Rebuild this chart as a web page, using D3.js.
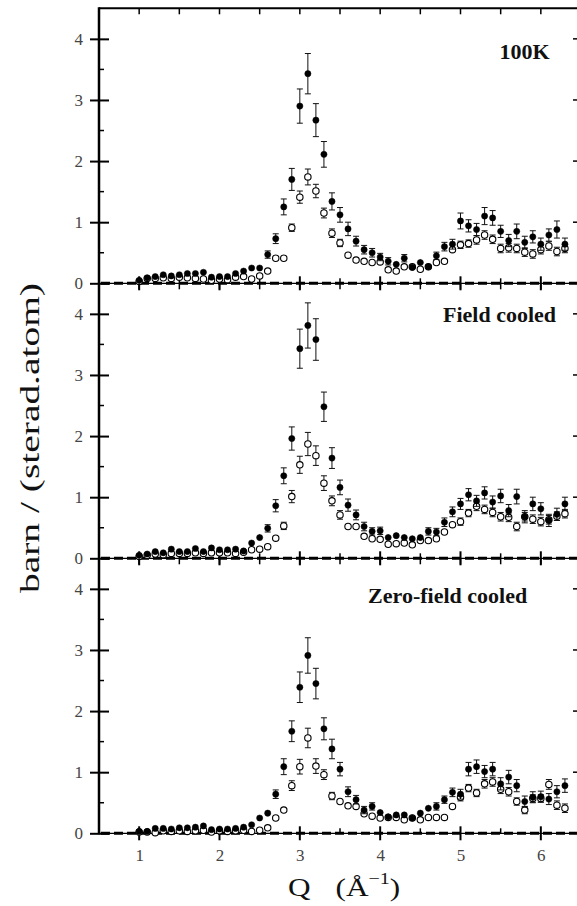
<!DOCTYPE html>
<meta charset="utf-8">
<style>
body { margin: 0; background: #fff; }
svg { display: block; }
.tick text { font-family: 'Liberation Serif', 'Times New Roman', Times, 'Nimbus Roman', 'Noto Serif', serif; font-size: 17px; fill: #444; }
.lbl { font-family: 'Liberation Serif', 'Times New Roman', Times, 'Nimbus Roman', 'Noto Serif', serif; fill: #111; }
</style>
<body>
<script src="https://d3js.org/d3.v7.min.js"></script>
<script>
// Q values, one point every 0.1 Å^-1
const Q = [1.0,1.1,1.2,1.3,1.4,1.5,1.6,1.7,1.8,1.9,2.0,2.1,2.2,2.3,2.4,2.5,2.6,2.7,2.8,2.9,
  3.0,3.1,3.2,3.3,3.4,3.5,3.6,3.7,3.8,3.9,4.0,4.1,4.2,4.3,4.4,4.5,4.6,4.7,4.8,4.9,
  5.0,5.1,5.2,5.3,5.4,5.5,5.6,5.7,5.8,5.9,6.0,6.1,6.2,6.3];

const panelNames = ["100K", "Field cooled", "Zero-field cooled"];
const xTicks = [1, 2, 3, 4, 5, 6];
const yTicks = [0, 1, 2, 3, 4];

// 100K
const filled100 = [0.05,0.09,0.11,0.14,0.12,0.14,0.16,0.16,0.18,0.10,0.11,0.11,0.16,0.20,0.25,0.25,0.47,0.73,1.25,1.70,
  2.90,3.43,2.67,2.11,1.34,1.12,0.89,0.69,0.55,0.50,0.43,0.36,0.31,0.41,0.26,0.34,0.27,0.45,0.60,0.64,
  1.02,0.94,0.88,1.10,1.07,0.85,0.70,0.85,0.67,0.76,0.64,0.79,0.88,0.64];
const filled100Err = [0.03,0.03,0.03,0.03,0.03,0.03,0.03,0.03,0.03,0.03,0.03,0.03,0.03,0.03,0.04,0.04,0.06,0.08,0.13,0.18,
  0.28,0.33,0.27,0.21,0.14,0.12,0.11,0.08,0.07,0.07,0.06,0.06,0.05,0.06,0.05,0.05,0.05,0.06,0.07,0.08,
  0.13,0.10,0.10,0.14,0.12,0.10,0.10,0.12,0.10,0.10,0.10,0.10,0.14,0.10];
const open100 = [0.03,0.08,0.08,0.09,0.08,0.10,0.09,0.08,0.07,0.05,0.07,0.06,0.10,0.11,0.07,0.12,0.20,0.41,0.41,0.91,
  1.41,1.74,1.51,1.15,0.82,0.66,0.46,0.38,0.36,0.34,0.35,0.22,0.20,0.27,0.27,0.23,0.27,0.34,0.36,0.55,
  0.63,0.65,0.71,0.79,0.72,0.57,0.58,0.57,0.51,0.48,0.55,0.61,0.52,0.57];
const open100Err = [0.02,0.02,0.02,0.02,0.02,0.02,0.02,0.02,0.02,0.02,0.02,0.02,0.02,0.02,0.03,0.03,0.04,0.04,0.04,0.06,
  0.10,0.13,0.11,0.08,0.07,0.06,0.05,0.04,0.04,0.04,0.04,0.04,0.04,0.04,0.04,0.04,0.04,0.04,0.05,0.05,
  0.06,0.06,0.07,0.07,0.07,0.07,0.07,0.07,0.07,0.07,0.07,0.07,0.07,0.07];

// Field cooled
const filledFC = [0.05,0.07,0.11,0.09,0.15,0.11,0.11,0.16,0.11,0.17,0.14,0.14,0.15,0.12,0.25,0.34,0.49,0.86,1.35,1.96,
  3.43,3.81,3.58,2.48,1.64,1.16,0.87,0.71,0.52,0.44,0.45,0.34,0.37,0.34,0.32,0.34,0.44,0.43,0.59,0.76,
  0.89,1.04,0.94,1.07,0.92,1.02,0.78,1.01,0.68,0.89,0.81,0.62,0.72,0.89];
const filledFCErr = [0.03,0.03,0.03,0.03,0.03,0.03,0.03,0.03,0.03,0.03,0.03,0.03,0.03,0.03,0.04,0.05,0.06,0.10,0.13,0.19,
  0.32,0.37,0.34,0.24,0.17,0.12,0.10,0.08,0.07,0.06,0.06,0.05,0.05,0.05,0.05,0.05,0.06,0.06,0.07,0.08,
  0.09,0.10,0.09,0.10,0.10,0.11,0.10,0.12,0.10,0.11,0.10,0.10,0.10,0.11];
const openFC = [0.03,0.05,0.07,0.06,0.08,0.08,0.08,0.09,0.08,0.09,0.09,0.09,0.08,0.10,0.14,0.15,0.19,0.33,0.53,1.01,
  1.53,1.87,1.68,1.23,0.94,0.71,0.52,0.52,0.36,0.32,0.31,0.23,0.24,0.25,0.22,0.29,0.29,0.32,0.43,0.55,
  0.60,0.74,0.85,0.80,0.75,0.68,0.67,0.52,0.68,0.64,0.60,0.63,0.69,0.73];
const openFCErr = [0.02,0.02,0.02,0.02,0.02,0.02,0.02,0.02,0.02,0.02,0.02,0.02,0.02,0.02,0.03,0.03,0.04,0.05,0.06,0.10,
  0.14,0.19,0.16,0.12,0.08,0.07,0.05,0.05,0.04,0.04,0.04,0.04,0.04,0.04,0.04,0.04,0.04,0.04,0.05,0.05,
  0.06,0.06,0.07,0.07,0.07,0.07,0.07,0.07,0.07,0.07,0.07,0.07,0.07,0.07];

// Zero-field cooled
const filledZFC = [0.03,0.03,0.08,0.08,0.07,0.09,0.09,0.10,0.12,0.06,0.07,0.07,0.08,0.10,0.14,0.25,0.33,0.64,1.09,1.67,
  2.39,2.91,2.45,1.71,1.38,1.05,0.68,0.55,0.38,0.44,0.34,0.27,0.30,0.30,0.25,0.33,0.41,0.44,0.55,0.67,
  0.64,1.05,1.09,1.01,1.05,0.81,0.92,0.78,0.52,0.59,0.60,0.56,0.68,0.78];
const filledZFCErr = [0.02,0.02,0.02,0.02,0.02,0.02,0.02,0.02,0.02,0.02,0.02,0.02,0.02,0.02,0.03,0.04,0.05,0.07,0.13,0.17,
  0.25,0.29,0.25,0.18,0.16,0.11,0.08,0.07,0.06,0.06,0.05,0.05,0.05,0.05,0.05,0.05,0.05,0.06,0.06,0.07,
  0.08,0.11,0.11,0.10,0.11,0.10,0.11,0.10,0.09,0.09,0.09,0.09,0.10,0.11];
const openZFC = [0.02,0.02,0.01,0.04,0.03,0.04,0.03,0.04,0.05,0.02,0.04,0.03,0.04,0.05,0.03,0.05,0.09,0.25,0.38,0.78,
  1.09,1.56,1.10,0.96,0.61,0.52,0.45,0.44,0.32,0.28,0.25,0.26,0.26,0.22,0.25,0.22,0.26,0.26,0.26,0.44,
  0.59,0.74,0.66,0.81,0.84,0.72,0.68,0.52,0.38,0.57,0.57,0.80,0.46,0.41];
const openZFCErr = [0.02,0.02,0.02,0.02,0.02,0.02,0.02,0.02,0.02,0.02,0.02,0.02,0.02,0.02,0.02,0.03,0.03,0.04,0.05,0.08,
  0.12,0.16,0.12,0.08,0.06,0.05,0.05,0.04,0.04,0.04,0.04,0.04,0.04,0.04,0.04,0.04,0.04,0.04,0.04,0.05,
  0.06,0.06,0.06,0.07,0.07,0.07,0.07,0.06,0.06,0.06,0.06,0.08,0.07,0.07];

const series = [
  { filled: filled100, filledErr: filled100Err, open: open100, openErr: open100Err },
  { filled: filledFC, filledErr: filledFCErr, open: openFC, openErr: openFCErr },
  { filled: filledZFC, filledErr: filledZFCErr, open: openZFC, openErr: openZFCErr }
];
// where each panel's name sits (right end of text), in data units
const nameAt = [[6.11, 3.67], [6.19, 3.87], [5.83, 3.77]];

const W = 577, H = 906;
const svg = d3.select("body").append("svg").attr("width", W).attr("height", H);

const x = d3.scaleLinear().domain([0.5, 6.5]).range([99, 581]);
const panelBottoms = [283.3, 558.3, 833.3];
const panelH = 275;
const halfX = [0.5,1,1.5,2,2.5,3,3.5,4,4.5,5,5.5,6,6.5];
const minorY = [0.5, 1.5, 2.5, 3.5];

panelBottoms.forEach(function(yb, i) {
  var y = d3.scaleLinear().domain([0, 4.5]).range([yb, yb - panelH]);
  var g = svg.append("g");

  // left axis labels + crossing major ticks
  var ax = g.append("g")
      .attr("transform", "translate(" + x(0.5) + ",0)")
      .call(d3.axisLeft(y).tickValues(yTicks).tickSize(9).tickPadding(7).tickFormat(d3.format("d")));
  ax.select(".domain").remove();
  ax.selectAll(".tick line").attr("x1", 10).attr("stroke", "#000").attr("stroke-width", 2);

  // minor ticks on left, ticks on right
  g.selectAll(".yminor").data(minorY).enter().append("line")
      .attr("x1", x(0.5)).attr("x2", x(0.5) + 5)
      .attr("y1", d => y(d)).attr("y2", d => y(d))
      .attr("stroke", "#000").attr("stroke-width", 1.5);
  g.selectAll(".yright").data(yTicks.concat(minorY)).enter().append("line")
      .attr("x1", x(6.5)).attr("x2", d => x(6.5) - (d % 1 === 0 ? 8 : 4))
      .attr("y1", d => y(d)).attr("y2", d => y(d))
      .attr("stroke", "#000").attr("stroke-width", 1.5);

  // x ticks at the bottom of the panel
  g.selectAll(".xmajor").data(xTicks).enter().append("line")
      .attr("x1", d => x(d)).attr("x2", d => x(d))
      .attr("y1", yb - 7).attr("y2", yb + 7)
      .attr("stroke", "#000").attr("stroke-width", 2);
  g.selectAll(".xminor").data(halfX.filter(d => d % 1 !== 0)).enter().append("line")
      .attr("x1", d => x(d)).attr("x2", d => x(d))
      .attr("y1", yb - 5).attr("y2", yb)
      .attr("stroke", "#000").attr("stroke-width", 1.5);
  // x ticks at the top of the panel (pointing in)
  g.selectAll(".xtop").data(halfX).enter().append("line")
      .attr("x1", d => x(d)).attr("x2", d => x(d))
      .attr("y1", yb - panelH).attr("y2", yb - panelH + 6)
      .attr("stroke", "#000").attr("stroke-width", 1.5);

  // zero line: thin solid + thick dashes
  g.append("line").attr("x1", x(0.5)).attr("x2", x(6.5)).attr("y1", y(0)).attr("y2", y(0))
      .attr("stroke", "#000").attr("stroke-width", 1.2);
  g.append("line").attr("x1", x(0.5) + 2).attr("x2", x(6.5)).attr("y1", y(0)).attr("y2", y(0))
      .attr("stroke", "#000").attr("stroke-width", 3).attr("stroke-dasharray", "9,4");

  var s = series[i];
  function drawSet(vals, errs, isOpen) {
    var pts = Q.map((q, k) => ({ q: q, v: vals[k], e: errs[k] }));
    var eb = g.append("g").attr("stroke", "#111").attr("stroke-width", 1);
    eb.selectAll(".bar").data(pts).enter().append("line")
        .attr("x1", d => x(d.q)).attr("x2", d => x(d.q))
        .attr("y1", d => y(d.v - d.e)).attr("y2", d => y(d.v + d.e));
    eb.selectAll(".capt").data(pts.filter(d => d.e > 0.05)).enter().append("line")
        .attr("x1", d => x(d.q) - 3).attr("x2", d => x(d.q) + 3)
        .attr("y1", d => y(d.v + d.e)).attr("y2", d => y(d.v + d.e));
    eb.selectAll(".capb").data(pts.filter(d => d.e > 0.05)).enter().append("line")
        .attr("x1", d => x(d.q) - 3).attr("x2", d => x(d.q) + 3)
        .attr("y1", d => y(d.v - d.e)).attr("y2", d => y(d.v - d.e));
    g.append("g").selectAll("circle").data(pts).enter().append("circle")
        .attr("cx", d => x(d.q)).attr("cy", d => y(d.v))
        .attr("r", isOpen ? 3.2 : 3.1)
        .attr("fill", isOpen ? "#fff" : "#000")
        .attr("stroke", "#000").attr("stroke-width", isOpen ? 1.1 : 0.5);
  }
  drawSet(s.open, s.openErr, true);
  drawSet(s.filled, s.filledErr, false);

  g.append("text").attr("class", "lbl")
      .attr("x", x(nameAt[i][0])).attr("y", y(nameAt[i][1]))
      .attr("text-anchor", "end").attr("font-size", 22).attr("font-weight", "bold")
      .text(panelNames[i]);

  if (i === 2) {
    var bx = g.append("g")
        .attr("transform", "translate(0," + yb + ")")
        .call(d3.axisBottom(x).tickValues(xTicks).tickSize(7).tickPadding(9).tickFormat(d3.format("d")));
    bx.select(".domain").remove();
    bx.selectAll(".tick line").remove();
  }
});

// frame: top border and left axis
svg.append("line").attr("x1", x(0.5)).attr("x2", x(6.5))
    .attr("y1", panelBottoms[0] - panelH).attr("y2", panelBottoms[0] - panelH)
    .attr("stroke", "#000").attr("stroke-width", 2);
svg.append("line").attr("x1", x(0.5)).attr("x2", x(0.5))
    .attr("y1", panelBottoms[0] - panelH - 1).attr("y2", panelBottoms[2] + 1)
    .attr("stroke", "#000").attr("stroke-width", 2.5);

// axis titles
svg.append("text").attr("class", "lbl")
    .attr("transform", "translate(39,438) rotate(-90)")
    .attr("text-anchor", "middle").attr("font-size", 27)
    .attr("textLength", 310).attr("lengthAdjust", "spacingAndGlyphs")
    .text("barn / (sterad.atom)");

var xt = svg.append("g").attr("transform", "translate(288,896) scale(1.25,1)");
var t = xt.append("text").attr("class", "lbl").attr("font-size", 25);
t.append("tspan").text("Q");
t.append("tspan").attr("dx", 20).text("(Å");
t.append("tspan").attr("dy", -12).attr("font-size", 16).text("−1");
t.append("tspan").attr("dy", 12).text(")");
</script>
</body>
